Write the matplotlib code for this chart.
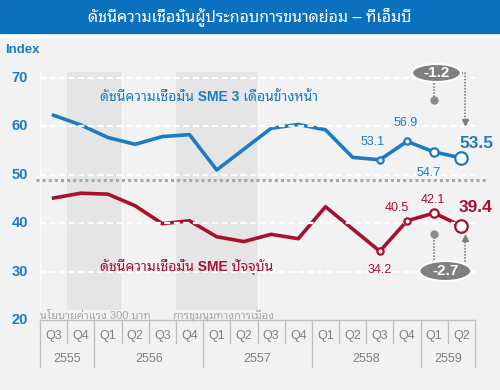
import numpy as np
import matplotlib
matplotlib.use('Agg')
import matplotlib.pyplot as plt
from matplotlib.patches import Rectangle, Ellipse

plt.rcParams['font.family'] = ['Liberation Sans', 'Noto Sans Thai Looped', 'Sarabun', 'Noto Sans Thai', 'DejaVu Sans']

# data
quarters = ['Q3', 'Q4', 'Q1', 'Q2', 'Q3', 'Q4', 'Q1', 'Q2', 'Q3', 'Q4', 'Q1', 'Q2', 'Q3', 'Q4', 'Q1', 'Q2']
years = ['2555', '2555', '2556', '2556', '2556', '2556', '2557', '2557', '2557', '2557',
         '2558', '2558', '2558', '2558', '2559', '2559']
outlook = [62.3, 60.3, 57.7, 56.3, 57.9, 58.3, 51.0, 55.3, 59.6, 60.4, 59.3, 53.6, 53.1, 56.9, 54.7, 53.5]
current = [45.2, 46.2, 46.0, 43.6, 39.9, 40.5, 37.2, 36.2, 37.7, 36.8, 43.4, 38.8, 34.2, 40.5, 42.1, 39.4]
yticks = [20, 30, 40, 50, 60, 70]
shade_spans = [(1, 2), (5, 7)]
shade_labels = ['นโยบายค่าแรง 300 บาท', 'การชุมนุมทางการเมือง']
title = 'ดัชนีความเชื่อมั่นผู้ประกอบการขนาดย่อม – ทีเอ็มบี'
label_outlook = 'ดัชนีความเชื่อมั่น SME 3 เดือนข้างหน้า'
label_current = 'ดัชนีความเชื่อมั่น SME ปัจจุบัน'

BLUE = '#1B7CC4'
RED = '#A8102F'
GRAY = '#7F7F7F'
TBL = '#BFBFBF'


# pixel -> data helpers (for placing texts like in the picture)
def px_x(p):
    return (p - 40) / 27.1875 - 0.5


def px_y(p):
    return 20 + (320 - p) / 4.84


x = np.arange(len(quarters))
n = len(x)

fig = plt.figure(figsize=(5, 3.9), dpi=100)
fig.patches.append(Rectangle((0, 1 - 33 / 390), 1, 33 / 390, transform=fig.transFigure,
                             color='#0B70BD', zorder=0))
fig.text(0.5, 1 - 17 / 390, title, color='white', fontsize=11.5, ha='center', va='center')

ax = fig.add_axes([0, 0, 1, 352 / 390])
ax.set_facecolor('#F2F2F2')
ax.set_xlim(px_x(0), px_x(500))
ax.set_ylim(px_y(390), px_y(38))
for s in ax.spines.values():
    s.set_visible(False)
ax.set_xticks([])
ax.set_yticks([])

# shaded periods
for (a, b), lab in zip(shade_spans, shade_labels):
    ax.fill_between([a - 0.5, b + 0.5], px_y(310), px_y(72), color='#E5E5E5', lw=0, zorder=1)
    ax.plot([b + 0.5, b + 0.5], [px_y(310), px_y(72)], color='white', lw=0.8, alpha=0.8, zorder=1.5)
ax.plot([-0.5, -0.5], [px_y(310), px_y(72)], color='white', lw=0.8, alpha=0.8, zorder=1.5)
for (a, b), lab, lx in zip(shade_spans, shade_labels, [40, 172]):
    ax.text(px_x(lx), px_y(316), lab, fontsize=8, color='#A6A6A6', ha='left', va='center')

# grid (drawn over the lines like in the picture)
for v in yticks[1:]:
    ax.plot([-0.5, n - 0.5], [v, v], color='white', lw=1.6, ls=(0, (2.7, 1.6)), zorder=4.5)
ax.plot([px_x(36), px_x(486)], [48.9, 48.9], color='#A9A9A9', lw=2.2, ls=(0, (1, 1)), zorder=4.5)

for v in yticks:
    ax.text(px_x(20), v, str(v), color=BLUE, fontsize=10.5, fontweight='bold', ha='center', va='center')
ax.text(px_x(5), px_y(50), 'Index', color=BLUE, fontsize=9.5, fontweight='bold', ha='left', va='center')

# lines
ax.plot(x, outlook, color=BLUE, lw=2.6, zorder=4, solid_joinstyle='round')
ax.plot(x, current, color=RED, lw=2.6, zorder=4, solid_joinstyle='round')
sizes = [4.5, 4.5, 6, 9]
for i, ms in zip(range(n - 4, n), sizes):
    ax.plot(x[i], outlook[i], 'o', ms=ms, mfc='white', mec=BLUE, mew=1.6, zorder=5)
    ax.plot(x[i], current[i], 'o', ms=ms, mfc='white', mec=RED, mew=1.6, zorder=5)

ax.text(px_x(100), px_y(97), label_outlook, color=BLUE, fontsize=10, fontweight='bold', va='center')
ax.text(px_x(100), px_y(267), label_current, color=RED, fontsize=10, fontweight='bold', va='center')

# value labels
def vlabel(i, vals, color, dx, dy, big=False):
    ax.annotate('%.1f' % vals[i], (x[i], vals[i]), xytext=(dx, dy), textcoords='offset points',
                ha='center', va='center', color=color,
                fontsize=12.5 if big else 9, fontweight='bold' if big else 'normal', zorder=6)


vlabel(n - 4, outlook, BLUE, -5, 13)
vlabel(n - 3, outlook, BLUE, -1, 13)
vlabel(n - 2, outlook, BLUE, -4, -15)
vlabel(n - 1, outlook, BLUE, 11, 10, big=True)
vlabel(n - 4, current, RED, 0, -13.5)
vlabel(n - 3, current, RED, -7, 9)
vlabel(n - 2, current, RED, -1, 9.5)
vlabel(n - 1, current, RED, 10, 13.5, big=True)

# change bubbles
dot_kw = dict(color=GRAY, lw=1.3, ls=(0, (0.8, 0.9)), zorder=6)
i1, i2 = n - 2, n - 1
xa = x[i2] + 0.15
# outlook change
ey = px_y(73)
ax.plot([x[i1], x[i1]], [px_y(100), ey], **dot_kw)
ax.plot(x[i1], px_y(100), 'o', ms=5, color='#8C8C8C', zorder=7)
ax.plot([x[i1], xa, xa], [ey, ey, px_y(121)], **dot_kw)
ax.plot(xa, px_y(122), 'v', ms=5, color=GRAY, zorder=7)
ax.add_patch(Ellipse((x[i1] + 0.08, ey), 49 / 27.1875, 18 / 4.84, fc=GRAY, ec='white', lw=1.5, zorder=8))
ax.text(x[i1] + 0.08, ey, '%.1f' % (outlook[i2] - outlook[i1]), color='white', fontsize=11,
        fontweight='bold', ha='center', va='center', zorder=9)
# current change
ey = px_y(271)
ax.plot([x[i1], x[i1]], [px_y(234), ey], **dot_kw)
ax.plot(x[i1], px_y(234), 'o', ms=5, color='#8C8C8C', zorder=7)
ax.plot([xa, xa], [ey, px_y(239)], **dot_kw)
ax.plot(xa, px_y(238), '^', ms=5, color=GRAY, zorder=7)
ax.add_patch(Ellipse((x[i1] + 0.41, ey), 52 / 27.1875, 20 / 4.84, fc=GRAY, ec='white', lw=1.5, zorder=8))
ax.text(x[i1] + 0.41, ey, '%.1f' % (current[i2] - current[i1]), color='white', fontsize=11,
        fontweight='bold', ha='center', va='center', zorder=9)

# quarter / year table
q_bot, y_bot = px_y(343), px_y(367)
ax.plot([-0.5, n - 0.5], [20, 20], color=TBL, lw=1, zorder=3)
for i in range(n + 1):
    new_year = i == 0 or i == n or years[i] != years[i - 1]
    ax.plot([i - 0.5, i - 0.5], [20, y_bot if new_year else q_bot], color=TBL, lw=1, zorder=3)
for i, q in enumerate(quarters):
    ax.text(x[i], px_y(336), q, color='#808080', fontsize=9, ha='center', va='center')
for yr in dict.fromkeys(years):
    idx = [i for i in range(n) if years[i] == yr]
    ax.text(np.mean(idx), px_y(359), yr, color='#808080', fontsize=9, ha='center', va='center')

fig.savefig('out.png', dpi=100)
